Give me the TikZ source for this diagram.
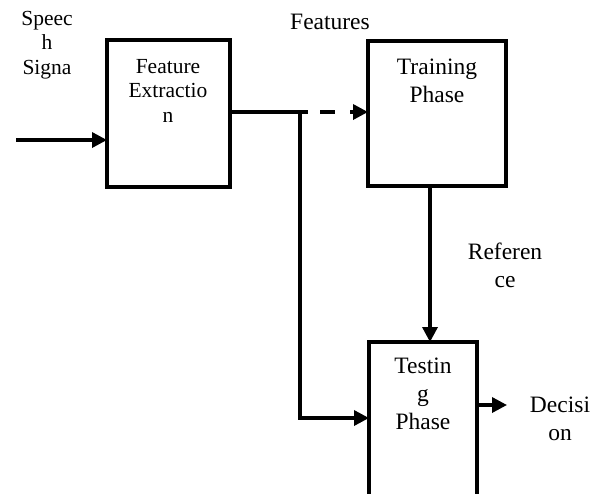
\documentclass[tikz,border=0pt]{standalone}
\usepackage{fontspec}
\setmainfont{Liberation Serif}
\usetikzlibrary{arrows.meta}
\begin{document}
\begin{tikzpicture}[x=1pt, y=-1pt,
  wire/.style={line width=3.4pt},
  tip/.style={-{Triangle[length=15pt,width=15pt]}},
  block/.style={draw, line width=3.4pt, rectangle, inner sep=0pt, outer sep=0pt},
  txtbig/.style={align=center, inner sep=0pt, anchor=base, font=\fontsize{23.5}{28}\selectfont},
  txtsmall/.style={align=center, inner sep=0pt, anchor=base, font=\fontsize{21.5}{24.5}\selectfont}]
  \useasboundingbox (0,0) rectangle (601,493);

  % blocks
  \node[block, minimum width=123pt, minimum height=147pt] (fe) at (168.5,113.5) {};
  \node[block, minimum width=138pt, minimum height=145pt] (tr) at (437,113.5) {};
  % testing block runs off the lower edge, so it is drawn open at the bottom
  \node[rectangle, inner sep=0pt, outer sep=0pt, minimum width=108pt, minimum height=152pt] (te) at (423,418) {};
  \draw[line width=3.4pt] (te.south west) -- (te.north west) -- (te.north east) -- (te.south east);

  % labels (anchored at the baseline of their last line)
  \node[txtsmall] (sp) at (47,74) {Speec\\h\\Signa};
  \node[txtsmall] (fet) at (168,122) {Feature\\Extractio\\n};
  \node[txtbig] (ft) at (330,29) {Features};
  \node[txtbig] (trt) at (437,102) {Training\\Phase};
  \node[txtbig] (rf) at (505,287) {Referen\\ce};
  \node[txtbig] (tet) at (423,429) {Testin\\g\\Phase};
  \node[txtbig] (dc) at (560,440) {Decisi\\on};

  % connectors
  \coordinate (in) at (16,140);
  \coordinate (br) at (300,112);
  \coordinate (lo) at (300,418);
  \coordinate (rx) at (430,0);
  \coordinate (dec) at (507,405);

  \draw[wire, tip] (in) -- (fe.west |- in);
  \draw[wire] (fe.east |- br) -- (br);
  \draw[wire, tip, dash pattern=on 8pt off 12pt on 15pt off 15pt] (br) -- (tr.west |- br);
  \draw[wire, tip] (br) -- (lo) -- (te.west |- lo);
  \draw[wire, tip] (tr.south -| rx) -- (te.north -| rx);
  \draw[wire, tip] (te.east |- dec) -- (dec);
\end{tikzpicture}
\end{document}
